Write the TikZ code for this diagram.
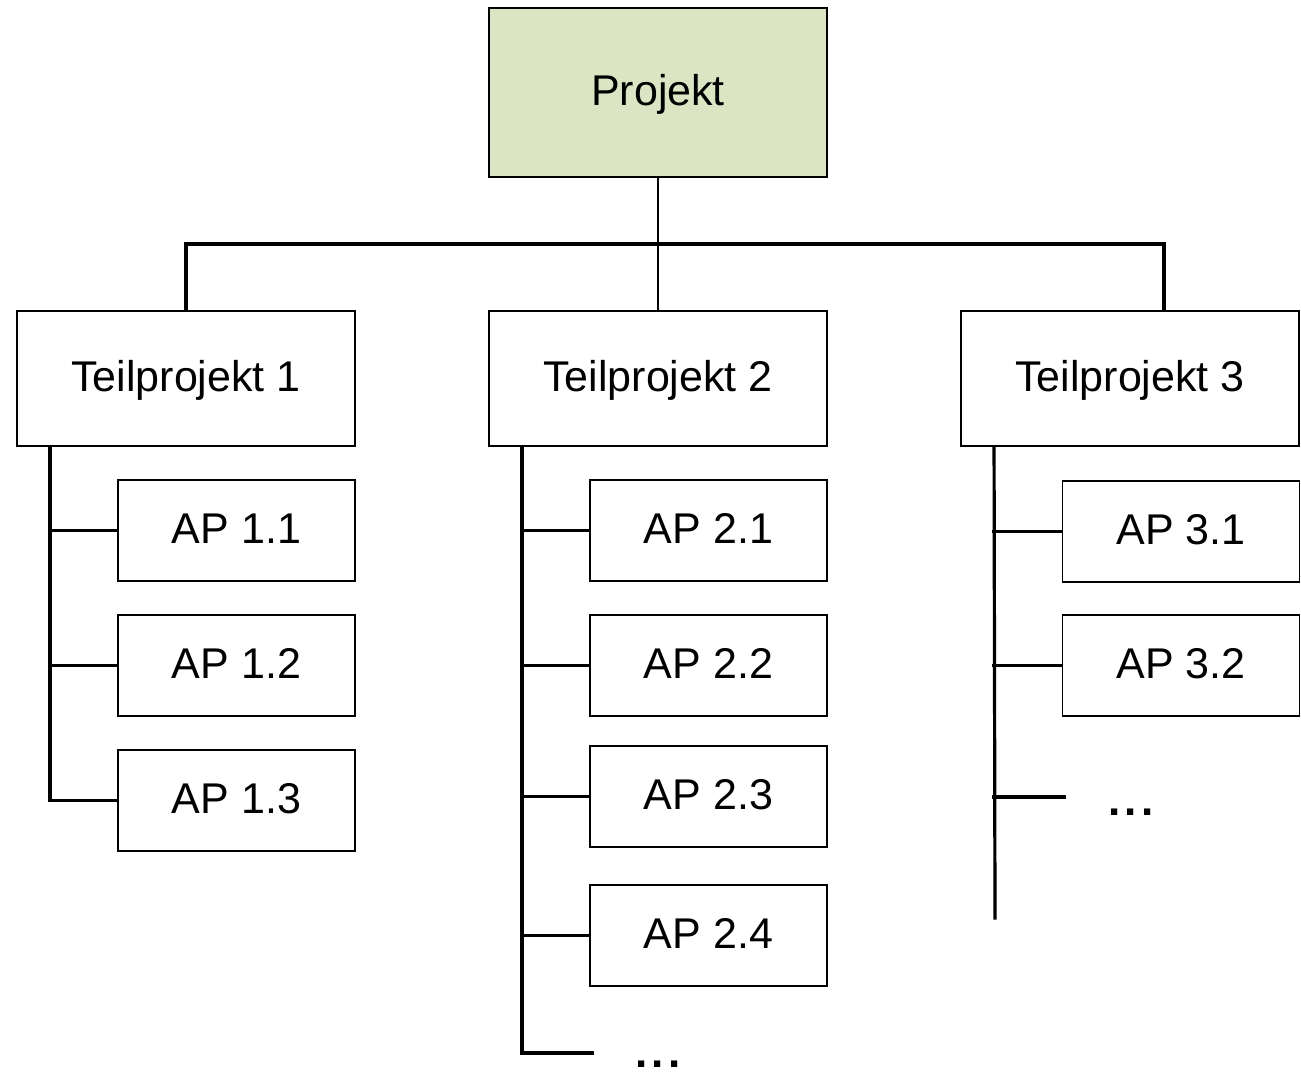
\documentclass[tikz,border=0pt]{standalone}
\usepackage{fontspec}
\setmainfont{Liberation Sans}
\definecolor{projgreen}{RGB}{219,229,195}
\pgfdeclarelayer{lines}
\pgfsetlayers{lines,main}
\begin{document}
\begin{tikzpicture}[x=1pt,y=-1pt,
  box/.style={draw=black,line width=1.9pt,fill=white,inner sep=0pt,
    font=\fontsize{43}{50}\selectfont,text height=31pt,text depth=5pt},
  topbox/.style={box,fill=projgreen,minimum width=338pt,minimum height=169pt},
  subbox/.style={box,minimum width=338pt,minimum height=135pt},
  apbox/.style={box,minimum width=237pt,minimum height=101pt},
  link/.style={line width=3.2pt,line cap=rect},
  more/.style={font=\fontsize{44}{50}\selectfont\bfseries,inner sep=0pt,anchor=base}]
\useasboundingbox (0,0) rectangle (1301,1071);

% top level
\node[topbox] (P) at (658,92.5) {Projekt};

% sub-projects
\node[subbox] (T1) at (186,378.5) {Teilprojekt 1};
\node[subbox] (T2) at (658,378.5) {Teilprojekt 2};
\node[subbox] (T3) at (1130,378.5) {Teilprojekt 3};

% work packages
\node[apbox] (A11) at (236.5,530.5) {AP 1.1};
\node[apbox] (A12) at (236.5,665.5) {AP 1.2};
\node[apbox] (A13) at (236.5,800.5) {AP 1.3};

\node[apbox] (A21) at (708.5,530.5) {AP 2.1};
\node[apbox] (A22) at (708.5,665.5) {AP 2.2};
\node[apbox] (A23) at (708.5,796.5) {AP 2.3};
\node[apbox] (A24) at (708.5,935.5) {AP 2.4};

\node[apbox] (A31) at (1181,531.5) {AP 3.1};
\node[apbox] (A32) at (1181,665.5) {AP 3.2};

\node[more] (M3) at (1131,815) {.\kern4.5pt.\kern4.5pt.};
\node[more] (M2) at (658,1067) {.\kern4.5pt.\kern4.5pt.};

% connector anchors
\coordinate (bar) at (658,244);
\coordinate (d3) at (1164,311);
\coordinate (s1) at ([xshift=34pt]T1.south west);
\coordinate (s2) at ([xshift=34pt]T2.south west);
\coordinate (s3) at ([xshift=34pt]T3.south west);
\coordinate (e2) at (592,1053);
\coordinate (e3) at (995,918);
\coordinate (b3) at (1064,797);

% tree connectors, drawn beneath the boxes
\begin{pgfonlayer}{lines}
\draw[line width=2.4pt] (P.south) -- (T2.north);
\draw[link] (T1.north) -- (T1.north |- bar) -- (d3 |- bar) -- (d3);

\draw[link] (s1) |- (A13.west);
\draw[link] (s1 |- A11.west) -- (A11.west);
\draw[link] (s1 |- A12.west) -- (A12.west);

\draw[link] (s2) |- (e2);
\draw[link] (s2 |- A21.west) -- (A21.west);
\draw[link] (s2 |- A22.west) -- (A22.west);
\draw[link] (s2 |- A23.west) -- (A23.west);
\draw[link] (s2 |- A24.west) -- (A24.west);

\draw[link] (s3) -- (e3);
\draw[link] (s3 |- A31.west) -- (A31.west);
\draw[link] (s3 |- A32.west) -- (A32.west);
\draw[link] (s3 |- b3) -- (b3);
\end{pgfonlayer}
\end{tikzpicture}
\end{document}
